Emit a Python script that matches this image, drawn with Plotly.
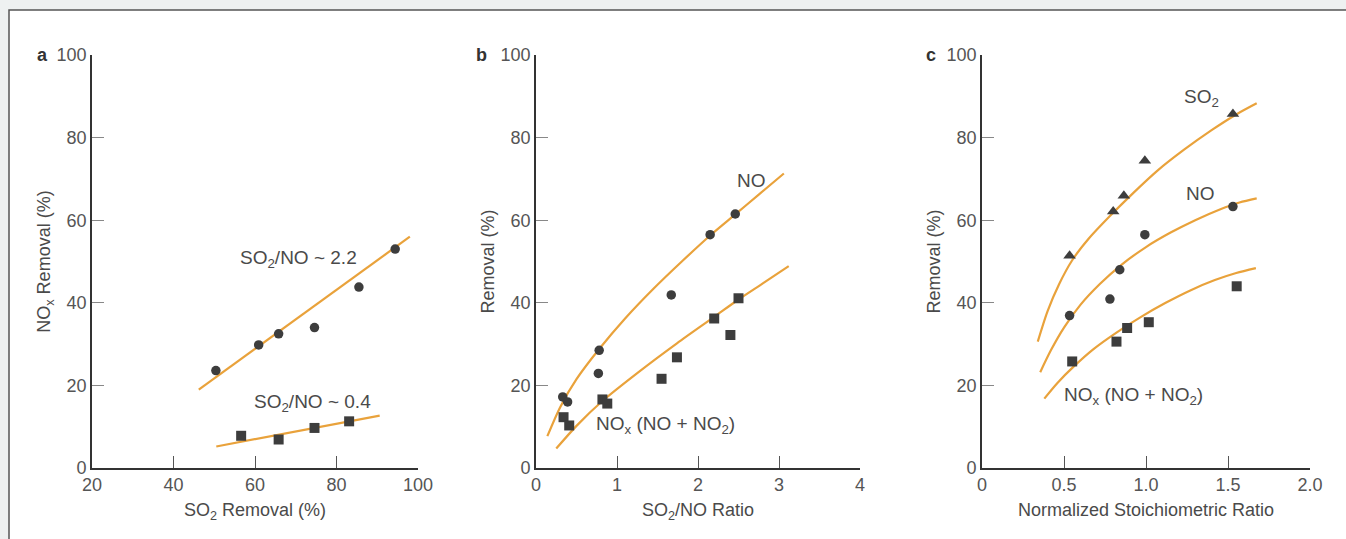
import plotly.graph_objects as go

# ---------------- Data ----------------
# Panel a
a_hi_x = [50.4, 60.9, 65.8, 74.6, 85.5, 94.4]
a_hi_y = [23.6, 29.8, 32.5, 34.0, 43.8, 53.0]
a_hi_fit_x = [46.2, 98.0]
a_hi_fit_y = [19.0, 56.0]
a_lo_x = [56.6, 65.8, 74.6, 83.1]
a_lo_y = [7.8, 6.9, 9.7, 11.3]
a_lo_fit_x = [50.5, 90.6]
a_lo_fit_y = [5.2, 12.7]

# Panel b
b_no_x = [0.33, 0.39, 0.77, 0.78, 1.67, 2.15, 2.46]
b_no_y = [17.2, 16.0, 22.9, 28.5, 41.9, 56.5, 61.5]
b_nox_x = [0.34, 0.41, 0.82, 0.88, 1.55, 1.74, 2.20, 2.40, 2.50]
b_nox_y = [12.3, 10.3, 16.6, 15.6, 21.6, 26.8, 36.2, 32.2, 41.1]
b_no_fit_x = [0.14, 0.30, 0.50, 0.78, 1.10, 1.45, 1.80, 2.15, 2.46, 2.75, 3.06]
b_no_fit_y = [7.7, 14.8, 21.5, 28.8, 36.2, 43.4, 50.0, 56.3, 61.4, 66.2, 71.3]
b_nox_fit_x = [0.25, 0.50, 0.83, 1.25, 1.74, 2.20, 2.50, 2.80, 3.12]
b_nox_fit_y = [4.7, 10.2, 16.4, 23.0, 30.2, 36.6, 40.8, 44.7, 48.9]

# Panel c
c_so2_x = [0.534, 0.80, 0.865, 0.993, 1.53]
c_so2_y = [51.4, 62.1, 65.9, 74.4, 85.7]
c_no_x = [0.534, 0.78, 0.84, 0.993, 1.53]
c_no_y = [36.9, 40.9, 48.0, 56.5, 63.3]
c_nox_x = [0.55, 0.82, 0.885, 1.017, 1.553]
c_nox_y = [25.8, 30.6, 33.9, 35.3, 44.0]
c_so2_fit_x = [0.34, 0.40, 0.47, 0.55, 0.65, 0.78, 0.92, 1.07, 1.23, 1.40, 1.55, 1.675]
c_so2_fit_y = [30.6, 38.0, 44.5, 50.3, 55.5, 61.0, 66.5, 72.0, 77.0, 81.8, 85.6, 88.3]
c_no_fit_x = [0.355, 0.42, 0.50, 0.60, 0.72, 0.85, 1.00, 1.15, 1.30, 1.45, 1.57, 1.675]
c_no_fit_y = [23.2, 28.5, 34.0, 39.5, 44.6, 49.2, 53.5, 57.0, 60.0, 62.6, 64.3, 65.3]
c_nox_fit_x = [0.38, 0.46, 0.56, 0.68, 0.82, 0.97, 1.12, 1.27, 1.42, 1.55, 1.67]
c_nox_fit_y = [16.8, 20.6, 24.6, 28.8, 32.8, 36.6, 40.0, 43.0, 45.5, 47.2, 48.4]

a_ticks = [20, 40, 60, 80, 100]
b_ticks = [0, 1, 2, 3, 4]
c_ticks = [0, 0.5, 1.0, 1.5, 2.0]
c_ticktext = ["0", "0.5", "1.0", "1.5", "2.0"]
y_ticks = [0, 20, 40, 60, 80, 100]

# ---------------- Styling ----------------
W, H = 1346, 539
ORANGE = "#E9A23B"
MARK = "#3d3d3d"
TXT = "#4a4a4a"
BG = "#eef1f1"
FONT = "Liberation Sans, Arial, sans-serif"

fig = go.Figure()

def fit(x, y, xa, ya, smooth=True):
    fig.add_trace(go.Scatter(x=x, y=y, mode="lines", xaxis=xa, yaxis=ya,
                             line=dict(color=ORANGE, width=2.2,
                                       shape="spline" if smooth else "linear",
                                       smoothing=0.8),
                             showlegend=False, hoverinfo="skip"))

def pts(x, y, xa, ya, sym, size):
    fig.add_trace(go.Scatter(x=x, y=y, mode="markers", xaxis=xa, yaxis=ya,
                             marker=dict(symbol=sym, size=size, color=MARK,
                                         line=dict(width=0)),
                             showlegend=False))

# Panel a
fit(a_hi_fit_x, a_hi_fit_y, "x", "y", smooth=False)
fit(a_lo_fit_x, a_lo_fit_y, "x", "y", smooth=False)
pts(a_hi_x, a_hi_y, "x", "y", "circle", 9.5)
pts(a_lo_x, a_lo_y, "x", "y", "square", 10)

# Panel b
fit(b_no_fit_x, b_no_fit_y, "x2", "y2")
fit(b_nox_fit_x, b_nox_fit_y, "x2", "y2")
pts(b_no_x, b_no_y, "x2", "y2", "circle", 9.5)
pts(b_nox_x, b_nox_y, "x2", "y2", "square", 10)

# Panel c
fit(c_so2_fit_x, c_so2_fit_y, "x3", "y3")
fit(c_no_fit_x, c_no_fit_y, "x3", "y3")
fit(c_nox_fit_x, c_nox_fit_y, "x3", "y3")
pts(c_so2_x, c_so2_y, "x3", "y3", "triangle-up", 11)
pts(c_no_x, c_no_y, "x3", "y3", "circle", 9.5)
pts(c_nox_x, c_nox_y, "x3", "y3", "square", 10)

ydom = [1 - 468 / H, 1 - 55 / H]
xdoms = [[92 / W, 418 / W], [536 / W, 860 / W], [982 / W, 1310 / W]]

def xaxis(dom, rng, tickvals, ticktext, title, anchor):
    return dict(domain=dom, range=rng, tickvals=tickvals, ticktext=ticktext,
                ticks="inside", ticklen=12, tickcolor="#555", tickwidth=1.2,
                showline=True, linecolor="#333", linewidth=1.6,
                showgrid=False, zeroline=False, anchor=anchor,
                automargin=False,
                tickfont=dict(family=FONT, size=18, color="#555"),
                title=dict(text=title, standoff=9,
                           font=dict(family=FONT, size=18, color=TXT)))

def yaxis(title, anchor):
    return dict(domain=ydom, range=[0, 100], tickvals=y_ticks,
                ticks="inside", ticklen=12, tickcolor="#888", tickwidth=1.2,
                showline=True, linecolor="#333", linewidth=1.6,
                showgrid=False, zeroline=False, anchor=anchor,
                automargin=False,
                tickfont=dict(family=FONT, size=18, color="#555"),
                title=dict(text=title, standoff=1,
                           font=dict(family=FONT, size=18, color=TXT)))

fig.update_layout(
    width=W, height=H,
    margin=dict(l=0, r=0, t=0, b=0, pad=0),
    paper_bgcolor=BG, plot_bgcolor="rgba(0,0,0,0)",
    xaxis=xaxis(xdoms[0], [20, 100], a_ticks, [str(t) for t in a_ticks],
                "SO<sub>2</sub> Removal (%)", "y"),
    yaxis=yaxis("NO<sub>x</sub> Removal (%)", "x"),
    xaxis2=xaxis(xdoms[1], [0, 4], b_ticks, [str(t) for t in b_ticks],
                 "SO<sub>2</sub>/NO Ratio", "y2"),
    yaxis2=yaxis("Removal (%)", "x2"),
    xaxis3=xaxis(xdoms[2], [0, 2], c_ticks, c_ticktext,
                 "Normalized Stoichiometric Ratio", "y3"),
    yaxis3=yaxis("Removal (%)", "x3"),
    font=dict(family=FONT, color=TXT),
)

# white framed panel
fig.add_shape(type="rect", xref="paper", yref="paper",
              x0=9 / W, x1=1.01, y0=-0.05, y1=1 - 10 / H,
              fillcolor="white", line=dict(color="#555", width=1.5),
              layer="below")

def label(text, x, y, xr, yr, size=19):
    fig.add_annotation(text=text, x=x, y=y, xref=xr, yref=yr,
                       showarrow=False,
                       font=dict(family=FONT, size=size, color=TXT))

label("SO<sub>2</sub>/NO ~ 2.2", 70.7, 50.6, "x", "y")
label("SO<sub>2</sub>/NO ~ 0.4", 74.2, 15.8, "x", "y")
label("NO", 2.66, 69.5, "x2", "y2")
label("NO<sub>x</sub> (NO + NO<sub>2</sub>)", 1.60, 10.3, "x2", "y2")
label("SO<sub>2</sub>", 1.34, 89.5, "x3", "y3")
label("NO", 1.33, 66.5, "x3", "y3")
label("NO<sub>x</sub> (NO + NO<sub>2</sub>)", 0.924, 17.5, "x3", "y3")

for letter, px in (("a", 42), ("b", 481), ("c", 931)):
    fig.add_annotation(text="<b>%s</b>" % letter, x=px / W, y=1 - 55 / H,
                       xref="paper", yref="paper", showarrow=False,
                       xanchor="center", yanchor="middle",
                       font=dict(family=FONT, size=18, color="#333"))

fig.write_html(
    "out.html",
    config={"displayModeBar": False},
    post_script="document.body.style.margin='0';"
                "document.body.style.background='%s';" % BG,
)
